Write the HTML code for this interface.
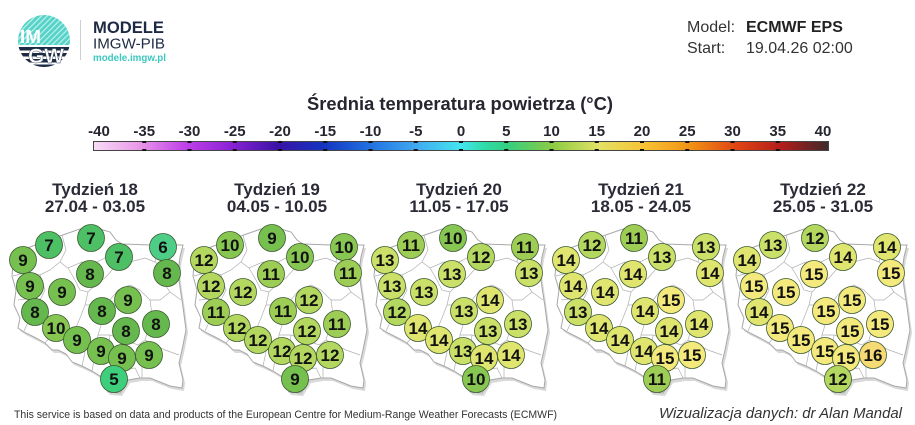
<!DOCTYPE html>
<html><head><meta charset="utf-8"><style>
html,body{margin:0;padding:0;background:#fff;}
svg{display:block;}
.n{font-family:"Liberation Sans",Arial,sans-serif;font-weight:bold;font-size:17px;fill:#111;text-anchor:middle;}
.wt{font-family:"Liberation Sans",Arial,sans-serif;font-weight:bold;font-size:17px;fill:#2b2b38;text-anchor:middle;}
.tl{font-family:"Liberation Sans",Arial,sans-serif;font-weight:bold;font-size:15px;fill:#262630;text-anchor:middle;}
.c{stroke:#3d5a30;stroke-width:0.8;}
.c5{fill:#3ecf7c}.c6{fill:#4dcd86}.c7{fill:#4dbf65}.c8{fill:#65b84d}.c9{fill:#76c050}.c10{fill:#88c652}
.c11{fill:#9dcd55}.c12{fill:#b4d85f}.c13{fill:#cbe068}.c14{fill:#dfe56e}.c15{fill:#f3e97c}.c16{fill:#f6da74}
</style></head><body>
<svg width="915" height="425" viewBox="0 0 915 425" xmlns="http://www.w3.org/2000/svg">
<defs>
<clipPath id="lc"><circle cx="44" cy="41" r="26"/></clipPath>
<pattern id="st" width="4" height="4" patternUnits="userSpaceOnUse" patternTransform="rotate(45)">
<rect width="4" height="4" fill="#56d3c9"/><rect width="1.2" height="4" fill="#bff0ea"/>
</pattern>
<linearGradient id="cb" x1="0" x2="1" y1="0" y2="0">
<stop offset="0" stop-color="#f8dcf6"/>
<stop offset="0.0625" stop-color="#e898e8"/>
<stop offset="0.125" stop-color="#c040e8"/>
<stop offset="0.1875" stop-color="#8a22d6"/>
<stop offset="0.25" stop-color="#3a12a6"/>
<stop offset="0.3125" stop-color="#1434c0"/>
<stop offset="0.375" stop-color="#2070e0"/>
<stop offset="0.4375" stop-color="#40a8f0"/>
<stop offset="0.5" stop-color="#44e6f0"/>
<stop offset="0.53" stop-color="#30dcac"/>
<stop offset="0.5625" stop-color="#32cf80"/>
<stop offset="0.625" stop-color="#8ccb44"/>
<stop offset="0.6875" stop-color="#e2e264"/>
<stop offset="0.75" stop-color="#f8c234"/>
<stop offset="0.8125" stop-color="#f09214"/>
<stop offset="0.875" stop-color="#e04414"/>
<stop offset="0.9375" stop-color="#b01c1c"/>
<stop offset="1" stop-color="#3e2a2a"/>
</linearGradient>
<g id="pl">
<path d="M14,259 L32,250 L59,240 L82,232 L102,232 L112,235 L118,243 L124,247 L152,248 L185,248 L182,260 L180,275 L182,290 L185,310 L188,333 L184,353 L181,366 L185,383 L184,391 L172,389 L162,385 L152,381 L142,381 L130,383 L122,396 L110,395 L102,379 L94,374 L84,369 L74,365 L68,357 L60,353 L54,353 L47,346 L38,341 L26,335 L20,331 L22,321 L16,308 L18,293 L14,279 L15,268 Z" fill="#d9d9d9"/>
<path d="M12,256 L30,247 L57,237 L80,229 L100,229 L110,232 L116,240 L122,244 L150,245 L183,245 L180,257 L178,272 L180,287 L183,307 L186,330 L182,350 L179,363 L183,380 L182,388 L170,386 L160,382 L150,378 L140,378 L128,380 L120,393 L108,392 L100,376 L92,371 L82,366 L72,362 L66,354 L58,350 L52,350 L45,343 L36,338 L24,332 L18,328 L20,318 L14,305 L16,290 L12,276 L13,265 Z" fill="#fff" stroke="#a8a8a8" stroke-width="1"/>
<g fill="none" stroke="#b0b0b0" stroke-width="0.7">
<path d="M62,235 L66,250 L60,262 L68,268 L82,262 L95,263 L105,258 L112,248"/>
<path d="M112,248 L118,262 L130,262 L145,258 L155,262 L158,246"/>
<path d="M155,262 L162,268 L163,282 L170,292 L181,300"/>
<path d="M13,276 L28,272 L40,275 L50,270 L60,262"/>
<path d="M18,300 L35,298 L42,310 L30,318 L24,331"/>
<path d="M40,275 L45,290 L40,300"/>
<path d="M68,268 L75,280 L80,290 L88,292 L95,285 L105,278 L112,270 L118,262"/>
<path d="M88,292 L85,305 L80,318 L75,330 L62,330 L52,335 L45,343"/>
<path d="M75,330 L82,340 L85,352 L82,366"/>
<path d="M85,305 L100,305 L110,300 L118,290 L130,285 L140,290 L150,300 L160,300 L170,292"/>
<path d="M100,305 L102,322 L98,335 L96,350 L92,371"/>
<path d="M98,335 L110,335 L125,340 L138,345 L145,340 L155,345 L165,350 L179,355"/>
<path d="M150,300 L152,315 L148,330 L145,340"/>
<path d="M110,335 L108,350 L112,365 L120,370 L135,368 L140,378"/>
<path d="M142,378 L142,365 L145,355 L160,350"/>
</g>
</g>
</defs>

<!-- Logo -->
<g clip-path="url(#lc)">
<rect x="16" y="13" width="60" height="34" fill="url(#st)"/>
<rect x="16" y="45" width="60" height="24" fill="#fff"/>
<rect x="16" y="47" width="60" height="3.5" fill="#1d2b45"/>
<rect x="16" y="53" width="60" height="3.5" fill="#1d2b45"/>
<rect x="16" y="59" width="60" height="3.5" fill="#1d2b45"/>
<rect x="16" y="64.5" width="60" height="4" fill="#1d2b45"/>
</g>
<text x="20" y="43" font-family="Liberation Sans,Arial,sans-serif" font-weight="bold" font-size="18" fill="#fff" textLength="21" lengthAdjust="spacingAndGlyphs">IM</text>
<text x="28" y="63" font-family="Liberation Sans,Arial,sans-serif" font-weight="bold" font-size="21" fill="#fff" stroke="#1d2b45" stroke-width="0.4" textLength="36" lengthAdjust="spacingAndGlyphs">GW</text>
<rect x="80" y="20" width="1" height="40" fill="#cfcfcf"/>
<text x="93" y="33" font-family="Liberation Sans,Arial,sans-serif" font-weight="bold" font-size="17" fill="#1e2a45" textLength="71" lengthAdjust="spacingAndGlyphs">MODELE</text>
<text x="93" y="48.5" font-family="Liberation Sans,Arial,sans-serif" font-size="14.5" fill="#1e2a45" textLength="72" lengthAdjust="spacingAndGlyphs">IMGW-PIB</text>
<text x="93" y="61" font-family="Liberation Sans,Arial,sans-serif" font-weight="bold" font-size="10" fill="#3cc8c0" textLength="73" lengthAdjust="spacingAndGlyphs">modele.imgw.pl</text>

<!-- Header right -->
<g font-family="Liberation Sans,Arial,sans-serif" font-size="16" fill="#333">
<text x="687" y="32">Model:</text>
<text x="746" y="32" font-weight="bold" fill="#222">ECMWF EPS</text>
<text x="687" y="53">Start:</text>
<text x="746" y="53">19.04.26 02:00</text>
</g>

<!-- Title & colorbar -->
<text x="460" y="110" text-anchor="middle" font-family="Liberation Sans,Arial,sans-serif" font-weight="bold" font-size="18" fill="#262630" textLength="306" lengthAdjust="spacingAndGlyphs">Średnia temperatura powietrza (°C)</text>
<g class="tl">
<text x="99" y="136">-40</text><text x="144.25" y="136">-35</text><text x="189.5" y="136">-30</text><text x="234.75" y="136">-25</text>
<text x="280" y="136">-20</text><text x="325.25" y="136">-15</text><text x="370.5" y="136">-10</text><text x="415.75" y="136">-5</text>
<text x="461" y="136">0</text><text x="506.25" y="136">5</text><text x="551.5" y="136">10</text><text x="596.75" y="136">15</text>
<text x="642" y="136">20</text><text x="687.25" y="136">25</text><text x="732.5" y="136">30</text><text x="777.75" y="136">35</text><text x="823" y="136">40</text>
</g>
<rect x="93.5" y="141.5" width="735" height="9" fill="url(#cb)" stroke="#444" stroke-width="1"/>
<g fill="#111">
<rect x="142.25" y="141" width="4" height="2"/><rect x="187.5" y="141" width="4" height="2"/><rect x="232.75" y="141" width="4" height="2"/><rect x="278" y="141" width="4" height="2"/><rect x="323.25" y="141" width="4" height="2"/><rect x="368.5" y="141" width="4" height="2"/><rect x="413.75" y="141" width="4" height="2"/><rect x="459" y="141" width="4" height="2"/><rect x="504.25" y="141" width="4" height="2"/><rect x="549.5" y="141" width="4" height="2"/><rect x="594.75" y="141" width="4" height="2"/><rect x="640" y="141" width="4" height="2"/><rect x="685.25" y="141" width="4" height="2"/><rect x="730.5" y="141" width="4" height="2"/><rect x="775.75" y="141" width="4" height="2"/>
<rect x="142.25" y="149" width="4" height="2"/><rect x="187.5" y="149" width="4" height="2"/><rect x="232.75" y="149" width="4" height="2"/><rect x="278" y="149" width="4" height="2"/><rect x="323.25" y="149" width="4" height="2"/><rect x="368.5" y="149" width="4" height="2"/><rect x="413.75" y="149" width="4" height="2"/><rect x="459" y="149" width="4" height="2"/><rect x="504.25" y="149" width="4" height="2"/><rect x="549.5" y="149" width="4" height="2"/><rect x="594.75" y="149" width="4" height="2"/><rect x="640" y="149" width="4" height="2"/><rect x="685.25" y="149" width="4" height="2"/><rect x="730.5" y="149" width="4" height="2"/><rect x="775.75" y="149" width="4" height="2"/>
</g>

<!-- Week titles -->
<text class="wt" x="95" y="195">Tydzień 18</text><text class="wt" x="95" y="212">27.04 - 03.05</text>
<text class="wt" x="277" y="195">Tydzień 19</text><text class="wt" x="277" y="212">04.05 - 10.05</text>
<text class="wt" x="459" y="195">Tydzień 20</text><text class="wt" x="459" y="212">11.05 - 17.05</text>
<text class="wt" x="641" y="195">Tydzień 21</text><text class="wt" x="641" y="212">18.05 - 24.05</text>
<text class="wt" x="823" y="195">Tydzień 22</text><text class="wt" x="823" y="212">25.05 - 31.05</text>

<!-- Map 1 -->
<g>
<use href="#pl"/>
<circle class="c c7" cx="49" cy="245" r="13.5"/><text class="n" x="49" y="251">7</text>
<circle class="c c7" cx="91" cy="238" r="13.5"/><text class="n" x="91" y="244">7</text>
<circle class="c c6" cx="163" cy="247" r="13.5"/><text class="n" x="163" y="253">6</text>
<circle class="c c9" cx="23" cy="260" r="13.5"/><text class="n" x="23" y="266">9</text>
<circle class="c c7" cx="119" cy="257" r="13.5"/><text class="n" x="119" y="263">7</text>
<circle class="c c8" cx="167" cy="273" r="13.5"/><text class="n" x="167" y="279">8</text>
<circle class="c c8" cx="90" cy="274" r="13.5"/><text class="n" x="90" y="280">8</text>
<circle class="c c9" cx="30" cy="286" r="13.5"/><text class="n" x="30" y="292">9</text>
<circle class="c c9" cx="62" cy="292" r="13.5"/><text class="n" x="62" y="298">9</text>
<circle class="c c9" cx="128" cy="300" r="13.5"/><text class="n" x="128" y="306">9</text>
<circle class="c c8" cx="35" cy="312" r="13.5"/><text class="n" x="35" y="318">8</text>
<circle class="c c8" cx="102" cy="311" r="13.5"/><text class="n" x="102" y="317">8</text>
<circle class="c c10" cx="56" cy="328" r="13.5"/><text class="n" x="56" y="334">10</text>
<circle class="c c8" cx="156" cy="324" r="13.5"/><text class="n" x="156" y="330">8</text>
<circle class="c c8" cx="126" cy="331" r="13.5"/><text class="n" x="126" y="337">8</text>
<circle class="c c9" cx="77" cy="340" r="13.5"/><text class="n" x="77" y="346">9</text>
<circle class="c c9" cx="101" cy="351" r="13.5"/><text class="n" x="101" y="357">9</text>
<circle class="c c9" cx="149" cy="355" r="13.5"/><text class="n" x="149" y="361">9</text>
<circle class="c c9" cx="122" cy="358" r="13.5"/><text class="n" x="122" y="364">9</text>
<circle class="c c5" cx="114" cy="379" r="13.5"/><text class="n" x="114" y="385">5</text>
</g>

<!-- Map 2 -->
<g transform="translate(181,0)">
<use href="#pl"/>
<circle class="c c10" cx="49" cy="245" r="13.5"/><text class="n" x="49" y="251">10</text>
<circle class="c c9" cx="91" cy="238" r="13.5"/><text class="n" x="91" y="244">9</text>
<circle class="c c10" cx="163" cy="247" r="13.5"/><text class="n" x="163" y="253">10</text>
<circle class="c c12" cx="23" cy="260" r="13.5"/><text class="n" x="23" y="266">12</text>
<circle class="c c10" cx="119" cy="257" r="13.5"/><text class="n" x="119" y="263">10</text>
<circle class="c c11" cx="167" cy="273" r="13.5"/><text class="n" x="167" y="279">11</text>
<circle class="c c11" cx="90" cy="274" r="13.5"/><text class="n" x="90" y="280">11</text>
<circle class="c c12" cx="30" cy="286" r="13.5"/><text class="n" x="30" y="292">12</text>
<circle class="c c12" cx="62" cy="292" r="13.5"/><text class="n" x="62" y="298">12</text>
<circle class="c c12" cx="128" cy="300" r="13.5"/><text class="n" x="128" y="306">12</text>
<circle class="c c11" cx="35" cy="312" r="13.5"/><text class="n" x="35" y="318">11</text>
<circle class="c c11" cx="102" cy="311" r="13.5"/><text class="n" x="102" y="317">11</text>
<circle class="c c12" cx="56" cy="328" r="13.5"/><text class="n" x="56" y="334">12</text>
<circle class="c c11" cx="156" cy="324" r="13.5"/><text class="n" x="156" y="330">11</text>
<circle class="c c12" cx="126" cy="331" r="13.5"/><text class="n" x="126" y="337">12</text>
<circle class="c c12" cx="77" cy="340" r="13.5"/><text class="n" x="77" y="346">12</text>
<circle class="c c12" cx="101" cy="351" r="13.5"/><text class="n" x="101" y="357">12</text>
<circle class="c c12" cx="149" cy="355" r="13.5"/><text class="n" x="149" y="361">12</text>
<circle class="c c12" cx="122" cy="358" r="13.5"/><text class="n" x="122" y="364">12</text>
<circle class="c c9" cx="114" cy="379" r="13.5"/><text class="n" x="114" y="385">9</text>
</g>

<!-- Map 3 -->
<g transform="translate(362,0)">
<use href="#pl"/>
<circle class="c c11" cx="49" cy="245" r="13.5"/><text class="n" x="49" y="251">11</text>
<circle class="c c10" cx="91" cy="238" r="13.5"/><text class="n" x="91" y="244">10</text>
<circle class="c c11" cx="163" cy="247" r="13.5"/><text class="n" x="163" y="253">11</text>
<circle class="c c13" cx="23" cy="260" r="13.5"/><text class="n" x="23" y="266">13</text>
<circle class="c c12" cx="119" cy="257" r="13.5"/><text class="n" x="119" y="263">12</text>
<circle class="c c13" cx="167" cy="273" r="13.5"/><text class="n" x="167" y="279">13</text>
<circle class="c c13" cx="90" cy="274" r="13.5"/><text class="n" x="90" y="280">13</text>
<circle class="c c13" cx="30" cy="286" r="13.5"/><text class="n" x="30" y="292">13</text>
<circle class="c c13" cx="62" cy="292" r="13.5"/><text class="n" x="62" y="298">13</text>
<circle class="c c14" cx="128" cy="300" r="13.5"/><text class="n" x="128" y="306">14</text>
<circle class="c c12" cx="35" cy="312" r="13.5"/><text class="n" x="35" y="318">12</text>
<circle class="c c13" cx="102" cy="311" r="13.5"/><text class="n" x="102" y="317">13</text>
<circle class="c c14" cx="56" cy="328" r="13.5"/><text class="n" x="56" y="334">14</text>
<circle class="c c13" cx="156" cy="324" r="13.5"/><text class="n" x="156" y="330">13</text>
<circle class="c c13" cx="126" cy="331" r="13.5"/><text class="n" x="126" y="337">13</text>
<circle class="c c14" cx="77" cy="340" r="13.5"/><text class="n" x="77" y="346">14</text>
<circle class="c c13" cx="101" cy="351" r="13.5"/><text class="n" x="101" y="357">13</text>
<circle class="c c14" cx="149" cy="355" r="13.5"/><text class="n" x="149" y="361">14</text>
<circle class="c c14" cx="122" cy="358" r="13.5"/><text class="n" x="122" y="364">14</text>
<circle class="c c10" cx="114" cy="379" r="13.5"/><text class="n" x="114" y="385">10</text>
</g>

<!-- Map 4 -->
<g transform="translate(543,0)">
<use href="#pl"/>
<circle class="c c12" cx="49" cy="245" r="13.5"/><text class="n" x="49" y="251">12</text>
<circle class="c c11" cx="91" cy="238" r="13.5"/><text class="n" x="91" y="244">11</text>
<circle class="c c13" cx="163" cy="247" r="13.5"/><text class="n" x="163" y="253">13</text>
<circle class="c c14" cx="23" cy="260" r="13.5"/><text class="n" x="23" y="266">14</text>
<circle class="c c13" cx="119" cy="257" r="13.5"/><text class="n" x="119" y="263">13</text>
<circle class="c c14" cx="167" cy="273" r="13.5"/><text class="n" x="167" y="279">14</text>
<circle class="c c14" cx="90" cy="274" r="13.5"/><text class="n" x="90" y="280">14</text>
<circle class="c c14" cx="30" cy="286" r="13.5"/><text class="n" x="30" y="292">14</text>
<circle class="c c14" cx="62" cy="292" r="13.5"/><text class="n" x="62" y="298">14</text>
<circle class="c c15" cx="128" cy="300" r="13.5"/><text class="n" x="128" y="306">15</text>
<circle class="c c13" cx="35" cy="312" r="13.5"/><text class="n" x="35" y="318">13</text>
<circle class="c c14" cx="102" cy="311" r="13.5"/><text class="n" x="102" y="317">14</text>
<circle class="c c14" cx="56" cy="328" r="13.5"/><text class="n" x="56" y="334">14</text>
<circle class="c c14" cx="156" cy="324" r="13.5"/><text class="n" x="156" y="330">14</text>
<circle class="c c14" cx="126" cy="331" r="13.5"/><text class="n" x="126" y="337">14</text>
<circle class="c c14" cx="77" cy="340" r="13.5"/><text class="n" x="77" y="346">14</text>
<circle class="c c14" cx="101" cy="351" r="13.5"/><text class="n" x="101" y="357">14</text>
<circle class="c c15" cx="149" cy="355" r="13.5"/><text class="n" x="149" y="361">15</text>
<circle class="c c15" cx="122" cy="358" r="13.5"/><text class="n" x="122" y="364">15</text>
<circle class="c c11" cx="114" cy="379" r="13.5"/><text class="n" x="114" y="385">11</text>
</g>

<!-- Map 5 -->
<g transform="translate(724,0)">
<use href="#pl"/>
<circle class="c c13" cx="49" cy="245" r="13.5"/><text class="n" x="49" y="251">13</text>
<circle class="c c12" cx="91" cy="238" r="13.5"/><text class="n" x="91" y="244">12</text>
<circle class="c c14" cx="163" cy="247" r="13.5"/><text class="n" x="163" y="253">14</text>
<circle class="c c14" cx="23" cy="260" r="13.5"/><text class="n" x="23" y="266">14</text>
<circle class="c c14" cx="119" cy="257" r="13.5"/><text class="n" x="119" y="263">14</text>
<circle class="c c15" cx="167" cy="273" r="13.5"/><text class="n" x="167" y="279">15</text>
<circle class="c c15" cx="90" cy="274" r="13.5"/><text class="n" x="90" y="280">15</text>
<circle class="c c15" cx="30" cy="286" r="13.5"/><text class="n" x="30" y="292">15</text>
<circle class="c c15" cx="62" cy="292" r="13.5"/><text class="n" x="62" y="298">15</text>
<circle class="c c15" cx="128" cy="300" r="13.5"/><text class="n" x="128" y="306">15</text>
<circle class="c c14" cx="35" cy="312" r="13.5"/><text class="n" x="35" y="318">14</text>
<circle class="c c15" cx="102" cy="311" r="13.5"/><text class="n" x="102" y="317">15</text>
<circle class="c c15" cx="56" cy="328" r="13.5"/><text class="n" x="56" y="334">15</text>
<circle class="c c15" cx="156" cy="324" r="13.5"/><text class="n" x="156" y="330">15</text>
<circle class="c c15" cx="126" cy="331" r="13.5"/><text class="n" x="126" y="337">15</text>
<circle class="c c15" cx="77" cy="340" r="13.5"/><text class="n" x="77" y="346">15</text>
<circle class="c c15" cx="101" cy="351" r="13.5"/><text class="n" x="101" y="357">15</text>
<circle class="c c16" cx="149" cy="355" r="13.5"/><text class="n" x="149" y="361">16</text>
<circle class="c c15" cx="122" cy="358" r="13.5"/><text class="n" x="122" y="364">15</text>
<circle class="c c12" cx="114" cy="379" r="13.5"/><text class="n" x="114" y="385">12</text>
</g>

<!-- Footer -->
<text x="14" y="418" font-family="Liberation Sans,Arial,sans-serif" font-size="11" fill="#333" textLength="543" lengthAdjust="spacingAndGlyphs">This service is based on data and products of the European Centre for Medium-Range Weather Forecasts (ECMWF)</text>
<text x="659" y="418" font-family="Liberation Sans,Arial,sans-serif" font-style="italic" font-size="14.5" fill="#333" textLength="243" lengthAdjust="spacingAndGlyphs">Wizualizacja danych: dr Alan Mandal</text>
</svg>
</body></html>
